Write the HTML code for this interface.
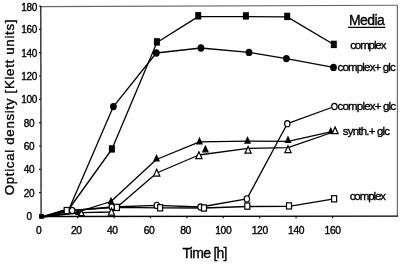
<!DOCTYPE html>
<html><head><meta charset="utf-8"><style>
html,body{margin:0;padding:0;background:#fff;}
body{width:400px;height:264px;overflow:hidden;}
svg{display:block;}
text{font-family:"Liberation Sans",sans-serif;fill:#000;stroke:#000;stroke-width:0.35px;-webkit-font-smoothing:antialiased;}
svg{will-change:transform;}
</style></head><body>
<svg width="400" height="264" viewBox="0 0 400 264">
<rect width="400" height="264" fill="#fff"/>
<line x1="40.5" y1="6.6" x2="397.4" y2="5.2" stroke="#666" stroke-width="1.1"/>
<line x1="397.4" y1="5.2" x2="397.4" y2="216.2" stroke="#6a6a6a" stroke-width="1.2"/>
<line x1="40.8" y1="6.1" x2="41.1" y2="216.5" stroke="#1a1a1a" stroke-width="1.3"/>
<line x1="40.4" y1="216.5" x2="397.9" y2="216.1" stroke="#000" stroke-width="1.3"/>
<line x1="39.0" y1="216.00" x2="40.8" y2="216.00" stroke="#111" stroke-width="1.1"/>
<line x1="39.0" y1="192.67" x2="40.8" y2="192.67" stroke="#111" stroke-width="1.1"/>
<line x1="39.0" y1="169.33" x2="40.8" y2="169.33" stroke="#111" stroke-width="1.1"/>
<line x1="39.0" y1="146.00" x2="40.8" y2="146.00" stroke="#111" stroke-width="1.1"/>
<line x1="39.0" y1="122.66" x2="40.8" y2="122.66" stroke="#111" stroke-width="1.1"/>
<line x1="39.0" y1="99.33" x2="40.8" y2="99.33" stroke="#111" stroke-width="1.1"/>
<line x1="39.0" y1="76.00" x2="40.8" y2="76.00" stroke="#111" stroke-width="1.1"/>
<line x1="39.0" y1="52.66" x2="40.8" y2="52.66" stroke="#111" stroke-width="1.1"/>
<line x1="39.0" y1="29.33" x2="40.8" y2="29.33" stroke="#111" stroke-width="1.1"/>
<line x1="39.0" y1="5.99" x2="40.8" y2="5.99" stroke="#111" stroke-width="1.1"/>
<line x1="41.20" y1="216" x2="41.20" y2="218.2" stroke="#000" stroke-width="1.2"/>
<line x1="77.61" y1="216" x2="77.61" y2="218.2" stroke="#000" stroke-width="1.2"/>
<line x1="114.02" y1="216" x2="114.02" y2="218.2" stroke="#000" stroke-width="1.2"/>
<line x1="150.43" y1="216" x2="150.43" y2="218.2" stroke="#000" stroke-width="1.2"/>
<line x1="186.84" y1="216" x2="186.84" y2="218.2" stroke="#000" stroke-width="1.2"/>
<line x1="223.25" y1="216" x2="223.25" y2="218.2" stroke="#000" stroke-width="1.2"/>
<line x1="259.66" y1="216" x2="259.66" y2="218.2" stroke="#000" stroke-width="1.2"/>
<line x1="296.07" y1="216" x2="296.07" y2="218.2" stroke="#000" stroke-width="1.2"/>
<line x1="332.48" y1="216" x2="332.48" y2="218.2" stroke="#000" stroke-width="1.2"/>
<g fill="none" stroke="#000" stroke-width="1.30" stroke-linejoin="round">
<polyline points="41.5,217.0 69.3,208.5 112.0,149.0 156.9,42.5 198.2,16.6 245.9,16.7 287.2,16.9 333.8,44.5"/>
<polyline points="41.5,217.0 69.3,208.5 113.4,106.6 156.3,53.0 200.9,48.0 249.0,52.4 286.4,58.6 333.5,67.4"/>
<polyline points="41.5,217.0 72.2,210.5 111.8,207.0 156.8,205.4 200.5,207.0 246.9,198.9 287.3,123.7 334.4,106.5"/>
<polyline points="41.5,217.0 78.0,211.8 111.0,201.5 156.3,159.5 199.5,141.9 247.5,141.2 288.0,141.3 329.5,132.2"/>
<polyline points="41.5,217.0 81.4,212.7 111.5,212.0 156.7,173.0 198.9,155.0 248.1,148.3 288.0,147.6 330.5,133.0"/>
<polyline points="41.5,217.0 66.7,210.6 116.9,207.4 160.1,207.8 204.0,208.0 247.3,206.5 289.0,206.3 334.1,198.8"/>
</g>
<ellipse cx="72.20" cy="210.50" rx="2.70" ry="3.10" fill="#fff" stroke="#000" stroke-width="1.15"/>
<ellipse cx="111.80" cy="207.00" rx="2.70" ry="3.10" fill="#fff" stroke="#000" stroke-width="1.15"/>
<ellipse cx="156.80" cy="205.40" rx="2.70" ry="3.10" fill="#fff" stroke="#000" stroke-width="1.15"/>
<ellipse cx="200.50" cy="207.00" rx="2.70" ry="3.10" fill="#fff" stroke="#000" stroke-width="1.15"/>
<ellipse cx="246.90" cy="198.90" rx="2.70" ry="3.10" fill="#fff" stroke="#000" stroke-width="1.15"/>
<ellipse cx="287.30" cy="123.70" rx="2.70" ry="3.10" fill="#fff" stroke="#000" stroke-width="1.15"/>
<ellipse cx="334.40" cy="106.50" rx="2.70" ry="3.10" fill="#fff" stroke="#000" stroke-width="1.15"/>
<ellipse cx="113.40" cy="106.60" rx="3.40" ry="3.70" fill="#000"/>
<ellipse cx="156.30" cy="53.00" rx="3.40" ry="3.70" fill="#000"/>
<ellipse cx="200.90" cy="48.00" rx="3.40" ry="3.70" fill="#000"/>
<ellipse cx="249.00" cy="52.40" rx="3.40" ry="3.70" fill="#000"/>
<ellipse cx="286.40" cy="58.60" rx="3.40" ry="3.70" fill="#000"/>
<ellipse cx="333.50" cy="67.40" rx="3.40" ry="3.70" fill="#000"/>
<polygon points="78.00,208.60 81.00,215.00 75.00,215.00" fill="#000"/>
<polygon points="111.00,196.70 114.50,204.30 107.50,204.30" fill="#000"/>
<polygon points="156.50,154.00 160.00,161.60 153.00,161.60" fill="#000"/>
<polygon points="199.50,136.80 203.00,144.40 196.00,144.40" fill="#000"/>
<polygon points="247.50,136.10 251.00,143.70 244.00,143.70" fill="#000"/>
<polygon points="288.00,135.50 291.50,143.10 284.50,143.10" fill="#000"/>
<polygon points="330.80,126.70 333.90,133.90 327.70,133.90" fill="#000"/>
<polygon points="205.40,144.70 209.00,152.50 201.80,152.50" fill="#000"/>
<polygon points="81.40,209.90 84.00,215.50 78.80,215.50" fill="#fff" stroke="#000" stroke-width="1.20" stroke-linejoin="miter"/>
<polygon points="111.50,208.30 114.60,215.10 108.40,215.10" fill="#fff" stroke="#000" stroke-width="1.20" stroke-linejoin="miter"/>
<polygon points="156.70,169.30 159.80,176.10 153.60,176.10" fill="#fff" stroke="#000" stroke-width="1.20" stroke-linejoin="miter"/>
<polygon points="198.90,151.80 202.00,158.60 195.80,158.60" fill="#fff" stroke="#000" stroke-width="1.20" stroke-linejoin="miter"/>
<polygon points="248.10,146.40 251.20,153.20 245.00,153.20" fill="#fff" stroke="#000" stroke-width="1.20" stroke-linejoin="miter"/>
<polygon points="288.00,145.80 291.10,152.60 284.90,152.60" fill="#fff" stroke="#000" stroke-width="1.20" stroke-linejoin="miter"/>
<polygon points="335.10,126.90 338.10,133.70 332.10,133.70" fill="#fff" stroke="#000" stroke-width="1.20" stroke-linejoin="miter"/>
<rect x="108.90" y="145.20" width="6.00" height="7.40" fill="#000"/>
<rect x="153.90" y="38.20" width="6.00" height="7.40" fill="#000"/>
<rect x="195.20" y="12.10" width="6.00" height="7.40" fill="#000"/>
<rect x="242.90" y="12.20" width="6.00" height="7.40" fill="#000"/>
<rect x="284.20" y="12.70" width="6.00" height="7.40" fill="#000"/>
<rect x="330.80" y="40.70" width="6.00" height="7.40" fill="#000"/>
<rect x="64.20" y="207.50" width="5.00" height="6.20" fill="#fff" stroke="#000" stroke-width="1.20"/>
<rect x="114.40" y="204.30" width="5.00" height="6.20" fill="#fff" stroke="#000" stroke-width="1.20"/>
<rect x="157.60" y="204.70" width="5.00" height="6.20" fill="#fff" stroke="#000" stroke-width="1.20"/>
<rect x="201.50" y="204.90" width="5.00" height="6.20" fill="#fff" stroke="#000" stroke-width="1.20"/>
<rect x="244.80" y="203.00" width="5.00" height="6.20" fill="#fff" stroke="#000" stroke-width="1.20"/>
<rect x="286.50" y="202.80" width="5.00" height="6.20" fill="#fff" stroke="#000" stroke-width="1.20"/>
<rect x="331.60" y="195.70" width="5.00" height="6.20" fill="#fff" stroke="#000" stroke-width="1.20"/>
<rect x="39.10" y="214.00" width="4.80" height="4.80" fill="#000"/>
<text x="29.2" y="10.60" font-size="10" text-anchor="middle" textLength="16.05" lengthAdjust="spacing">180</text>
<text x="29.2" y="33.20" font-size="10" text-anchor="middle" textLength="16.05" lengthAdjust="spacing">160</text>
<text x="29.2" y="56.80" font-size="10" text-anchor="middle" textLength="16.05" lengthAdjust="spacing">140</text>
<text x="29.2" y="80.00" font-size="10" text-anchor="middle" textLength="16.05" lengthAdjust="spacing">120</text>
<text x="29.2" y="103.20" font-size="10" text-anchor="middle" textLength="16.05" lengthAdjust="spacing">100</text>
<text x="29.2" y="126.60" font-size="10" text-anchor="middle" textLength="10.70" lengthAdjust="spacing">80</text>
<text x="29.2" y="150.00" font-size="10" text-anchor="middle" textLength="10.70" lengthAdjust="spacing">60</text>
<text x="29.2" y="173.20" font-size="10" text-anchor="middle" textLength="10.70" lengthAdjust="spacing">40</text>
<text x="29.2" y="196.50" font-size="10" text-anchor="middle" textLength="10.70" lengthAdjust="spacing">20</text>
<text x="29.2" y="219.60" font-size="10" text-anchor="middle" textLength="5.35" lengthAdjust="spacing">0</text>
<text x="38.80" y="233.9" font-size="10.3" text-anchor="middle" textLength="5.50" lengthAdjust="spacing">0</text>
<text x="76.50" y="233.9" font-size="10.3" text-anchor="middle" textLength="11.00" lengthAdjust="spacing">20</text>
<text x="112.50" y="233.9" font-size="10.3" text-anchor="middle" textLength="11.00" lengthAdjust="spacing">40</text>
<text x="149.20" y="233.9" font-size="10.3" text-anchor="middle" textLength="11.00" lengthAdjust="spacing">60</text>
<text x="185.70" y="233.9" font-size="10.3" text-anchor="middle" textLength="11.00" lengthAdjust="spacing">80</text>
<text x="223.40" y="233.9" font-size="10.3" text-anchor="middle" textLength="16.50" lengthAdjust="spacing">100</text>
<text x="259.90" y="233.9" font-size="10.3" text-anchor="middle" textLength="16.50" lengthAdjust="spacing">120</text>
<text x="296.30" y="233.9" font-size="10.3" text-anchor="middle" textLength="16.50" lengthAdjust="spacing">140</text>
<text x="332.80" y="233.9" font-size="10.3" text-anchor="middle" textLength="16.50" lengthAdjust="spacing">160</text>
<text x="182.5" y="258.3" font-size="14" textLength="45" lengthAdjust="spacing">Time [h]</text>
<text transform="translate(13.8,195.3) rotate(-90)" x="0" y="0" font-size="13.3" textLength="175.8" lengthAdjust="spacing">Optical density [Klett units]</text>
<text x="349" y="24.8" font-size="14" textLength="35.8" lengthAdjust="spacing">Media</text>
<line x1="348" y1="27.4" x2="385.4" y2="27.4" stroke="#000" stroke-width="1.3"/>
<text x="350.20" y="48.80" font-size="11.5" textLength="36.20" lengthAdjust="spacing">complex</text>
<text x="337.60" y="71.20" font-size="11.5" textLength="58.20" lengthAdjust="spacing">complex+ glc</text>
<text x="337.60" y="109.60" font-size="11.5" textLength="58.40" lengthAdjust="spacing">complex+ glc</text>
<text x="342.80" y="134.80" font-size="11.5" textLength="47.30" lengthAdjust="spacing">synth.+ glc</text>
<text x="349.70" y="199.90" font-size="11.5" textLength="36.40" lengthAdjust="spacing">complex</text>
</svg>
</body></html>
